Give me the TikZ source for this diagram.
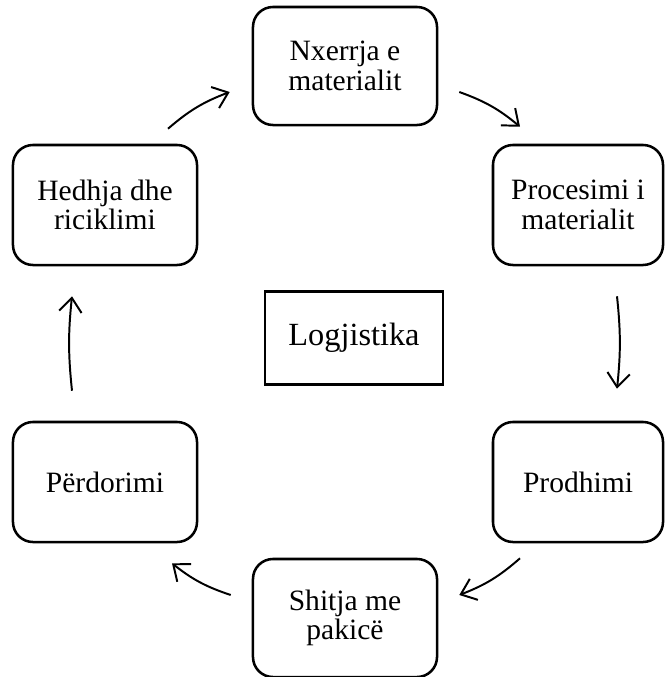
\documentclass[tikz,border=0pt]{standalone}
\usepackage{fontspec}
\setmainfont{Liberation Serif}
\usetikzlibrary{arrows.meta,positioning}

\begin{document}
\begin{tikzpicture}[
  x=0.025cm, y=-0.025cm,
  >={Straight Barb[length=10pt,width=16pt]},
  stage/.style={rectangle, rounded corners=0.5cm, draw=black, line width=1.8pt,
                minimum width=4.6cm, minimum height=3cm, align=center,
                font=\fontsize{21}{21}\selectfont},
  narrow/.style={stage, minimum width=4.25cm},
  hub/.style={rectangle, draw=black, line width=1.8pt, minimum width=4.45cm,
              minimum height=2.33cm, font=\fontsize{23}{23}\selectfont},
  link/.style={->, line width=1.4pt, draw=black},
]
\useasboundingbox (0,0) rectangle (665,677);

\node[stage, minimum height=2.95cm] (nx) at (345,66) {Nxerrja e\\materialit};
\node[narrow] (proc) at (578,205) {Procesimi i\\materialit};
\node[narrow] (prod) at (578,482) {Prodhimi};
\node[stage, minimum height=2.95cm] (shit) at (345,618) {Shitja me\\pakicë};
\node[stage] (perd) at (105,482) {Përdorimi};
\node[stage] (hedh) at (105,205) {Hedhja dhe\\riciklimi};
\node[hub] (log) at (354,338) {Logjistika};

\draw[link] ([shift={(63,-15)}]hedh.north) to[bend left=10] ([shift={(-22,26)}]nx.west);
\draw[link] ([shift={(21,26)}]nx.east) to[bend left=10] ([shift={(-58,-17)}]proc.north);
\draw[link] ([shift={(39,30)}]proc.south) to[bend left=6] ([shift={(39,-32)}]prod.north);
\draw[link] ([shift={(-58,15)}]prod.south) to[bend left=10] ([shift={(21,-23)}]shit.east);
\draw[link] ([shift={(-21,-23)}]shit.west) to[bend left=10] ([shift={(67,20)}]perd.south);
\draw[link] ([shift={(-33,-30)}]perd.north) to[bend left=6] ([shift={(-33,30)}]hedh.south);

\end{tikzpicture}
\end{document}
